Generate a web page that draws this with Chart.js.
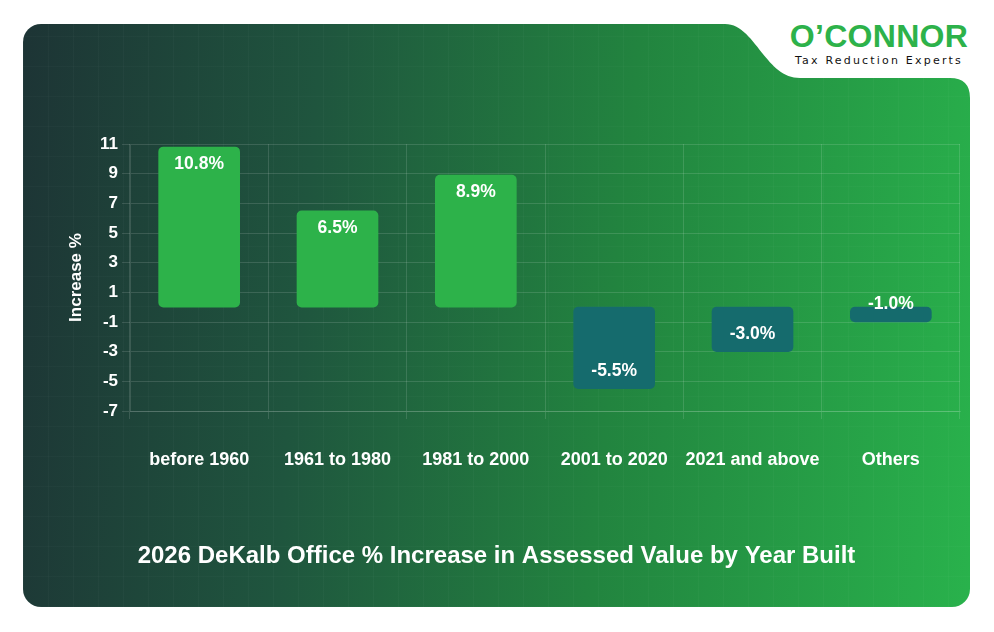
<!DOCTYPE html>
<html>
<head>
<meta charset="utf-8">
<script src="https://cdn.jsdelivr.net/npm/chart.js@4/dist/chart.umd.min.js"></script>
<style>
  html, body { margin: 0; padding: 0; background: #fff; }
  body { width: 994px; height: 632px; position: relative; overflow: hidden; font-family: "Liberation Sans", Arial, sans-serif; }
  #card {
    position: absolute; left: 23px; top: 24px; width: 947px; height: 583px;
    border-radius: 18px; overflow: hidden;
    background: linear-gradient(95deg, #1d3435 0%, #1f553e 30%, #22843f 62%, #29b24c 100%);
  }
  #card .tex {
    position: absolute; inset: 0;
    background:
      repeating-linear-gradient(90deg, rgba(255,255,255,0.025) 0 1px, transparent 1px 25px),
      repeating-linear-gradient(0deg, rgba(255,255,255,0.02) 0 1px, transparent 1px 30px);
  }
  #notch { position: absolute; left: 0; top: 0; }
  #chart { position: absolute; left: 23px; top: 24px; }
  #logo { position: absolute; left: 786px; top: 19px; width: 186px; text-align: center; }
  #logo .name { color: #2db24a; font: bold 32px "Liberation Sans", Arial, sans-serif; letter-spacing: 0.3px; line-height: 34px; }
  #logo .tag { color: #111; font: 11px "DejaVu Sans", sans-serif; letter-spacing: 2.2px; margin-top: 1px; }
</style>
</head>
<body>
<div id="card"><div class="tex"></div></div>
<svg id="notch" width="994" height="632">
  <path d="M 725 0 L 725 24 C 755 24, 765 78, 800 78 L 950 78 Q 970 78 970 98 L 994 98 L 994 0 Z" fill="#ffffff"/>
</svg>
<div id="logo">
  <div class="name">O’CONNOR</div>
  <div class="tag">Tax Reduction Experts</div>
</div>
<canvas id="chart" width="947" height="583"></canvas>
<script>
const categories = ["before 1960", "1961 to 1980", "1981 to 2000", "2001 to 2020", "2021 and above", "Others"];
const increaseValues = [10.8, 6.5, 8.9, -5.5, -3.0, -1.0];
const yTicks = [-7, -5, -3, -1, 1, 3, 5, 7, 9, 11];

const barLabels = {
  id: "barLabels",
  afterDatasetsDraw(chart) {
    const ctx = chart.ctx;
    const meta = chart.getDatasetMeta(0);
    ctx.save();
    ctx.fillStyle = "#ffffff";
    ctx.font = "bold 17.5px 'Liberation Sans', Arial, sans-serif";
    ctx.textAlign = "center";
    ctx.textBaseline = "middle";
    meta.data.forEach((bar, i) => {
      const v = increaseValues[i];
      const y = v >= 0 ? bar.y + 17.5 : bar.y - 17.5;
      ctx.fillText(v.toFixed(1) + "%", bar.x, y);
    });
    ctx.restore();
  }
};

const gridColor = "rgba(255,255,255,0.13)";

new Chart(document.getElementById("chart"), {
  type: "bar",
  data: {
    labels: categories,
    datasets: [{
      data: increaseValues,
      backgroundColor: increaseValues.map(v => v >= 0 ? "#2db24a" : "#156b6d"),
      borderRadius: 5,
      borderSkipped: false,
      barThickness: 81
    }]
  },
  options: {
    responsive: false,
    animation: false,
    devicePixelRatio: 1,
    layout: { padding: { top: 120, right: 10, left: 10, bottom: 0 } },
    plugins: {
      legend: { display: false },
      tooltip: { enabled: false },
      title: {
        display: true,
        position: "bottom",
        text: "2026 DeKalb Office % Increase in Assessed Value by Year Built",
        color: "#ffffff",
        font: { family: "'Liberation Sans', Arial, sans-serif", size: 24, weight: "bold" },
        padding: { top: 53.6, bottom: 36.6 }
      }
    },
    scales: {
      x: {
        grid: { color: gridColor, tickLength: 8 },
        border: { color: gridColor },
        ticks: {
          color: "#ffffff",
          padding: 30,
          maxRotation: 0,
          minRotation: 0,
          autoSkip: false,
          font: { family: "'Liberation Sans', Arial, sans-serif", size: 18, weight: "bold" }
        },
        afterFit(scale) { scale.height = 77; }
      },
      y: {
        min: -7,
        max: 11,
        afterBuildTicks(scale) { scale.ticks = yTicks.map(v => ({ value: v })); },
        grid: { color: gridColor, tickLength: 8 },
        border: { color: gridColor },
        ticks: {
          color: "#ffffff",
          padding: 4,
          font: { family: "'Liberation Sans', Arial, sans-serif", size: 17, weight: "bold" }
        },
        title: {
          display: true,
          text: "Increase %",
          color: "#ffffff",
          padding: { top: 33, bottom: 0 },
          font: { family: "'Liberation Sans', Arial, sans-serif", size: 17, weight: "bold" }
        },
        afterFit(scale) { scale.width = 97; }
      }
    }
  },
  plugins: [barLabels]
});
</script>
</body>
</html>
